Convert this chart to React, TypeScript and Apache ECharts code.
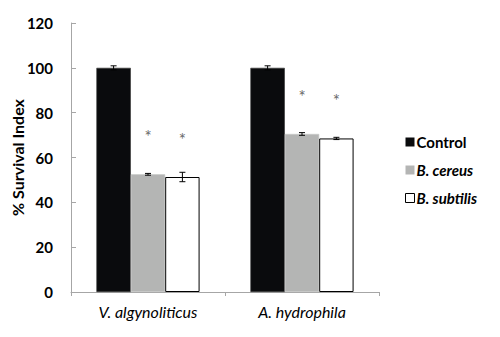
import React, { useEffect, useRef } from "react";
import * as echarts from "echarts";

const categories = ["V. algynoliticus", "A. hydrophila"];
const seriesNames = ["Control", "B. cereus", "B. subtilis"];
const controlValues = [100, 100];
const cereusValues = [52.5, 70.5];
const subtilisValues = [51.3, 68.5];
const controlErrors = [0.9, 0.9];
const cereusErrors = [0.4, 0.6];
const subtilisErrors = [2.1, 0.5];
const controlSig = ["", ""];
const cereusSig = ["*", "*"];
const subtilisSig = ["*", "*"];
const yTicks = [0, 20, 40, 60, 80, 100, 120];

const colors = ["#0a0b0d", "#b4b5b4", "#ffffff"];
const CAT_GAP = 0.33;

export default function App() {
  const ref = useRef<HTMLDivElement>(null);
  useEffect(() => {
    if (!ref.current) return;
    const chart = echarts.init(ref.current, null, { renderer: "svg" });
    const values = [controlValues, cereusValues, subtilisValues];
    const errors = [controlErrors, cereusErrors, subtilisErrors];
    const sigs = [controlSig, cereusSig, subtilisSig];
    const font = "Lato, 'Open Sans', sans-serif";

    const barSeries = seriesNames.map((name, si) => ({
      name,
      type: "bar",
      data: values[si],
      barGap: "0%",
      barCategoryGap: CAT_GAP * 100 + "%",
      itemStyle: {
        color: colors[si],
        borderColor: si === 2 ? "#000" : si === 1 ? "#c8c9c8" : "#333",
        borderWidth: si === 2 ? 1 : 0.6,
      },
      label: {
        show: true,
        position: "top",
        distance: 29,
        formatter: (p: any) => sigs[si][p.dataIndex],
        color: "#6a6a6a",
        fontSize: 17,
        fontFamily: font,
      },
    }));

    const errorSeries = seriesNames.map((name, si) => ({
      name: name + "-err",
      type: "custom",
      z: 10,
      data: categories.map((_, ci) => [ci, values[si][ci] - errors[si][ci], values[si][ci] + errors[si][ci]]),
      renderItem: (params: any, api: any) => {
        const ci = api.value(0);
        const band = api.size([1, 0])[0];
        const group = band * (1 - CAT_GAP);
        const bw = group / 3;
        const low = api.coord([ci, api.value(1)]);
        const high = api.coord([ci, api.value(2)]);
        const x = low[0] - group / 2 + bw * (si + 0.5);
        const cap = 3;
        const st = { stroke: "#000", lineWidth: 1 };
        return {
          type: "group",
          children: [
            { type: "line", shape: { x1: x, y1: low[1], x2: x, y2: high[1] }, style: st },
            { type: "line", shape: { x1: x - cap, y1: low[1], x2: x + cap, y2: low[1] }, style: st },
            { type: "line", shape: { x1: x - cap, y1: high[1], x2: x + cap, y2: high[1] }, style: st },
          ],
        };
      },
      silent: true,
    }));

    chart.setOption({
      animation: false,
      grid: { left: 71, right: 121, top: 23, bottom: 45, outerBoundsMode: "none", containLabel: false },
      legend: {
        orient: "vertical",
        left: 400,
        top: 129,
        itemWidth: 9,
        itemHeight: 9,
        itemGap: 12,
        icon: "rect",
        data: seriesNames.map((n, i) => ({
          name: n,
          itemStyle: { color: colors[i], borderColor: "#000", borderWidth: i === 2 ? 1 : 0 },
        })),
        formatter: (n: string) => (n === "Control" ? n : `{i|${n}}`),
        textStyle: {
          fontFamily: font,
          fontWeight: "bold",
          fontSize: 15,
          lineHeight: 16,
          color: "#000",
          padding: [0, 0, 0, -3],
          rich: { i: { fontStyle: "italic", fontWeight: "bold", fontSize: 15, lineHeight: 16, fontFamily: font, color: "#000" } },
        },
      },
      xAxis: {
        type: "category",
        data: categories,
        axisLine: { lineStyle: { color: "#a6a6a6", width: 1 } },
        axisTick: { show: true, length: 4, lineStyle: { color: "#a6a6a6" } },
        axisLabel: { fontFamily: font, fontStyle: "italic", fontSize: 16, color: "#000", margin: 11 },
      },
      yAxis: {
        type: "value",
        min: yTicks[0],
        max: yTicks[yTicks.length - 1],
        interval: 20,
        name: "% Survival Index",
        nameLocation: "middle",
        nameGap: 46,
        nameMoveOverlap: false,
        nameTextStyle: { fontFamily: font, fontWeight: "bold", fontSize: 16, color: "#000" },
        splitLine: { show: false },
        axisLine: { show: true, lineStyle: { color: "#a6a6a6", width: 1 } },
        axisTick: { show: true, inside: true, length: 5, lineStyle: { color: "#a6a6a6" } },
        axisLabel: { fontFamily: font, fontWeight: "bold", fontSize: 15, color: "#000", margin: 18 },
      },
      series: [...barSeries, ...errorSeries],
    });
    return () => chart.dispose();
  }, []);
  return <div ref={ref} style={{ width: 500, height: 337, position: "absolute", left: 0, top: 0, background: "#fff" }} />;
}
